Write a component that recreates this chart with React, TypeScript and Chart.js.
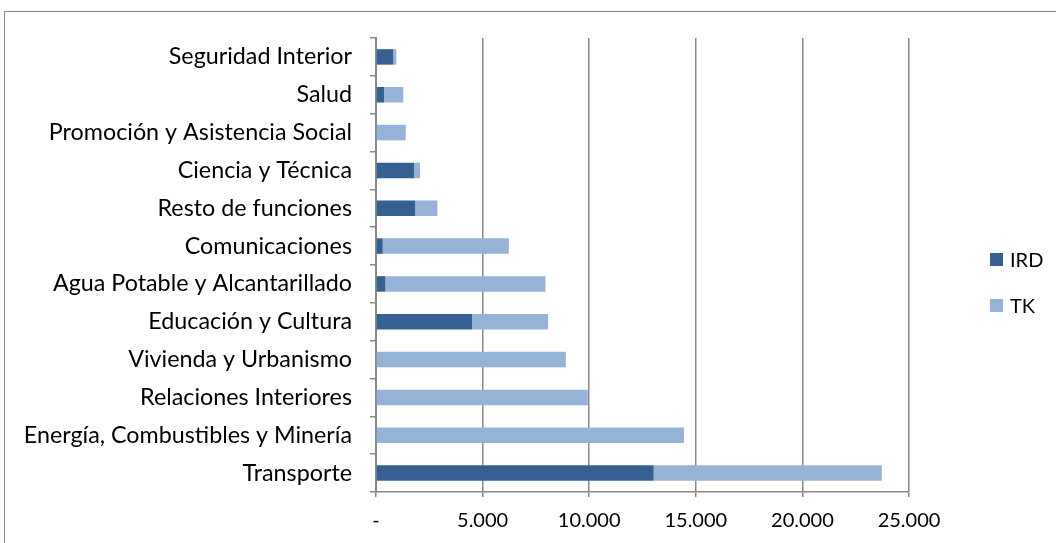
import React, { useEffect, useRef } from "react";
import { Chart, registerables } from "chart.js";

Chart.register(...registerables);

const categories = [
  "Seguridad Interior",
  "Salud",
  "Promoción y Asistencia Social",
  "Ciencia y Técnica",
  "Resto de funciones",
  "Comunicaciones",
  "Agua Potable y Alcantarillado",
  "Educación y Cultura",
  "Vivienda y Urbanismo",
  "Relaciones Interiores",
  "Energía, Combustibles y Minería",
  "Transporte",
];

const irdValues = [810, 375, 0, 1785, 1830, 315, 440, 4505, 0, 0, 0, 13025];
const tkValues = [145, 905, 1395, 280, 1050, 5915, 7510, 3570, 8905, 9935, 14445, 10700];

const seriesNames = ["IRD", "TK"];
const seriesColors = ["#376092", "#95B3D7"];

const xMin = 0;
const xMax = 25000;
const xStep = 5000;

const FONT = "Lato, 'Noto Sans', sans-serif";

function formatTick(v: number): string {
  if (v === 0) return "-";
  return String(v).replace(/\B(?=(\d{3})+(?!\d))/g, ".");
}

export default function App() {
  const canvasRef = useRef<HTMLCanvasElement | null>(null);

  useEffect(() => {
    const canvas = canvasRef.current;
    if (!canvas) return;
    const chart = new Chart(canvas, {
      type: "bar",
      data: {
        labels: categories,
        datasets: [
          {
            label: seriesNames[0],
            data: irdValues,
            backgroundColor: seriesColors[0],
            barPercentage: 0.41,
            categoryPercentage: 1,
          },
          {
            label: seriesNames[1],
            data: tkValues,
            backgroundColor: seriesColors[1],
            barPercentage: 0.41,
            categoryPercentage: 1,
          },
        ],
      },
      options: {
        indexAxis: "y",
        animation: false,
        responsive: false,
        devicePixelRatio: 1,
        layout: { padding: { top: 38, right: 147, bottom: 0, left: 0 } },
        plugins: {
          legend: { display: false },
          tooltip: { enabled: false },
        },
        scales: {
          x: {
            stacked: true,
            min: xMin,
            max: xMax,
            ticks: {
              stepSize: xStep,
              color: "#000",
              font: { family: FONT, size: 20 },
              padding: 12,
              maxRotation: 0,
              callback: (v: any) => formatTick(Number(v)),
            },
            grid: {
              color: "#888888",
              lineWidth: 1.5,
              tickLength: 5,
            },
            border: { color: "#888888", width: 1.5 },
            afterFit: (scale: any) => {
              scale.height = 51;
            },
          },
          y: {
            stacked: true,
            ticks: {
              color: "#000",
              font: { family: FONT, size: 23.3 },
              padding: 18,
            },
            grid: {
              color: "#888888",
              lineWidth: 1.5,
              tickLength: 6,
              drawOnChartArea: false,
              offset: true,
            },
            border: { color: "#888888", width: 2 },
            afterFit: (scale: any) => {
              scale.width = 376;
            },
          },
        },
      },
    });
    return () => chart.destroy();
  }, []);

  const legendItem = (i: number, top: number) => (
    <div
      key={seriesNames[i]}
      style={{
        position: "absolute",
        left: 990,
        top: top - 12,
        height: 24,
        display: "flex",
        alignItems: "center",
        fontFamily: FONT,
        fontSize: 20,
        color: "#000",
      }}
    >
      <span
        style={{
          display: "inline-block",
          width: 13,
          height: 13,
          background: seriesColors[i],
          marginRight: 7,
        }}
      />
      <span>{seriesNames[i]}</span>
    </div>
  );

  return (
    <div
      style={{
        position: "absolute",
        left: 0,
        top: 0,
        width: 1056,
        height: 543,
        background: "#fff",
        overflow: "hidden",
      }}
    >
      <div
        style={{
          position: "absolute",
          left: 4,
          top: 11,
          width: 1100,
          height: 600,
          border: "1px solid #878787",
          boxSizing: "border-box",
        }}
      />
      <canvas
        ref={canvasRef}
        width={1056}
        height={543}
        style={{ position: "absolute", left: 0, top: 0, width: 1056, height: 543 }}
      />
      {legendItem(0, 259)}
      {legendItem(1, 305)}
    </div>
  );
}
